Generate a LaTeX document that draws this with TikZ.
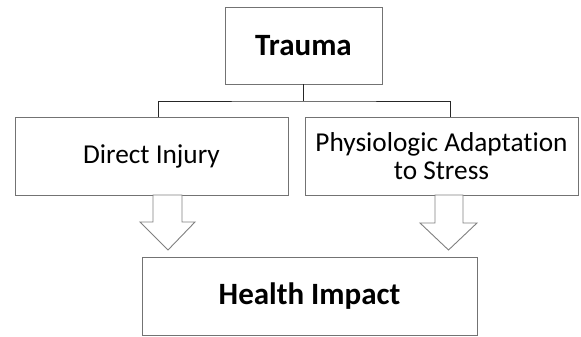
\documentclass[tikz,border=0pt]{standalone}
\usepackage{fontspec}
\setmainfont[RawFeature=-liga]{Carlito}
\begin{document}
\begin{tikzpicture}[x=1pt,y=-1pt,
  box/.style={draw=black!55,line width=0.9pt,fill=white,inner sep=0pt},
  link/.style={draw=black!85,line width=1pt},
  fatarrow/.style={draw=black!50,line width=0.9pt,fill=white,line join=miter},
  plain/.style={font=\fontsize{27.3}{30}\selectfont,align=center},
  strong/.style={font=\fontsize{31}{34}\selectfont\bfseries,align=center}]
\useasboundingbox (0,0) rectangle (581,337);
% boxes
\node[box,minimum width=157pt,minimum height=77pt,strong] (trauma) at (303.5,45.5) {Trauma};
\node[box,minimum width=273pt,minimum height=78pt,plain] (injury) at (151.5,156) {Direct Injury};
\node[box,minimum width=273pt,minimum height=78pt,plain] (adapt) at (441.5,156) {Physiologic Adaptation\\[-2pt]to Stress};
\node[box,minimum width=335pt,minimum height=78pt,strong] (impact) at (309.5,296) {Health Impact};
% tree connector
\coordinate (bus) at (303.5,101);
\draw[link] (trauma.south) -- (bus);
\draw[link] (injury.north -| 158,0) |- (bus) -| (adapt.north -| 450,0);
% block arrows
\draw[fatarrow] (153,195) -- (182,195) -- (182,222) -- (195,222) -- (168,250)
  -- (140,222) -- (153,222) -- cycle;
\draw[fatarrow] (435,195) -- (463,195) -- (463,223) -- (477,223) -- (448.5,250)
  -- (420,223) -- (435,223) -- cycle;
\end{tikzpicture}
\end{document}
